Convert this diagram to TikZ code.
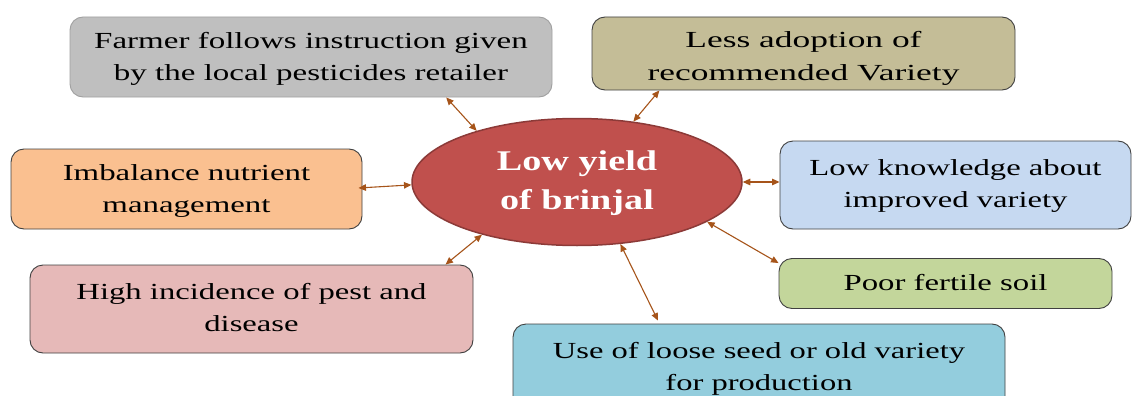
\documentclass[tikz,border=0pt]{standalone}
\usepackage{fontspec}
\setmainfont{Liberation Serif}
\usetikzlibrary{arrows.meta,shapes.geometric,calc}
\definecolor{boxline}{HTML}{404040}
\definecolor{cgray}{HTML}{BFBFBF}
\definecolor{cgrayline}{HTML}{A0A0A0}
\definecolor{ctan}{HTML}{C4BD97}
\definecolor{corange}{HTML}{FAC090}
\definecolor{cblue}{HTML}{C6D9F1}
\definecolor{cgreen}{HTML}{C3D69B}
\definecolor{cpink}{HTML}{E6B9B8}
\definecolor{ccyan}{HTML}{93CDDD}
\definecolor{cred}{HTML}{C0504D}
\definecolor{credline}{HTML}{8C3A38}
\definecolor{arrowc}{HTML}{A6541A}
\newcommand{\btxt}[3][0pt]{\raisebox{#1}[\height][\depth]{\scalebox{#2}[1]{\begin{tabular}{@{}c@{}}#3\end{tabular}}}}
\begin{document}
\begin{tikzpicture}[x=1pt,y=-1pt,
  cause/.style={draw=boxline, line width=0.9pt, rounded corners=13pt, inner sep=0pt,
    font=\fontsize{23}{32.5}\selectfont, text=black},
  link/.style={draw=arrowc, line width=1.1pt,
    {Triangle[length=7.5pt,width=6.5pt]}-{Triangle[length=7.5pt,width=6.5pt]}}]
\useasboundingbox (0,0) rectangle (1132,396);
\clip (0,0) rectangle (1132,396);
\node[cause, fill=cgray, draw=cgrayline, minimum width=482pt, minimum height=80pt] (g) at (311,57)
  {\btxt[-1pt]{1.435}{Farmer follows instruction given\\by the local pesticides retailer}};
\node[cause, fill=ctan, minimum width=423pt, minimum height=73pt] (t) at (803.5,53.5)
  {\btxt[-4pt]{1.54}{Less adoption of\\recommended Variety}};
\node[cause, fill=corange, minimum width=351pt, minimum height=80pt] (o) at (186.5,189)
  {\btxt[-1pt]{1.43}{Imbalance nutrient\\management}};
\node[cause, fill=cblue, minimum width=351pt, minimum height=88pt] (b) at (955.5,185)
  {\btxt{1.42}{Low knowledge about\\improved variety}};
\node[cause, fill=cgreen, minimum width=333pt, minimum height=50pt] (gr) at (945.5,283.5)
  {\btxt{1.425}{Poor fertile soil}};
\node[cause, fill=cpink, minimum width=443pt, minimum height=88pt] (p) at (251.5,309)
  {\btxt{1.42}{High incidence of pest and\\disease}};
\node[cause, fill=ccyan, minimum width=492pt, minimum height=86pt] (cy) at (759,367)
  {\btxt[-1pt]{1.415}{Use of loose seed or old variety\\for production}};
\node[ellipse, fill=cred, draw=credline, line width=1.5pt, minimum width=330pt,
  minimum height=127pt, inner sep=0pt, text=white,
  font=\bfseries\fontsize{28.5}{39}\selectfont] (c) at (577,182)
  {\btxt{1.34}{Low yield\\of brinjal}};
\draw[link] ($(g.south west)!0.78!(g.south east)$) -- (c.153);
\draw[link] ($(t.south west)!0.16!(t.south east)$) -- (c.47);
\draw[link] ($(o.east)+(-4,-1)$) -- (c.181);
\draw[link] (c.east) -- (c.east -| b.west);
\draw[link] (c.-17) -- ($(gr.north west)+(0,5)$);
\draw[link] (c.-55) -- ($(cy.north west)!0.295!(cy.north east)+(0,-3)$);
\draw[link] ($(p.north west)!0.937!(p.north east)$) -- (c.209);
\end{tikzpicture}
\end{document}
